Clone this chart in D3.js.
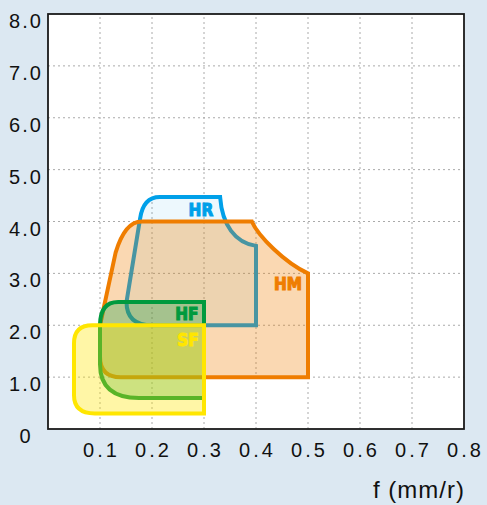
<!DOCTYPE html>
<html>
<head>
<meta charset="utf-8">
<script src="https://cdn.jsdelivr.net/npm/d3@7"></script>
<style>
  html, body { margin: 0; padding: 0; background: #dce8f2; }
  svg { display: block; }
</style>
</head>
<body>
<svg id="chart" width="487" height="505"></svg>
<script>
// tick values and labels
const xTicks = [0.1, 0.2, 0.3, 0.4, 0.5, 0.6, 0.7, 0.8];
const yTicks = [0, 1, 2, 3, 4, 5, 6, 7, 8];
const yTickLabels = ['0', '1.0', '2.0', '3.0', '4.0', '5.0', '6.0', '7.0', '8.0'];
const xTitle = 'f (mm/r)';

// chip breaker regions, outline in [f, ap]; 4 numbers = quad curve, 6 = cubic
const names = ['HR', 'HM', 'HF', 'SF'];
const outlineHR = [
  [0.151, 2.45], [0.177, 4.05], [0.183, 4.47, 0.215, 4.47], [0.331, 4.47],
  [0.335, 3.93, 0.36, 3.59, 0.4, 3.53], [0.4, 2.0], [0.2, 2.0], [0.151, 2.0, 0.151, 2.45],
];
const outlineHM = [
  [0.1, 1.4], [0.1, 2.0], [0.13, 3.4], [0.148, 4.0, 0.18, 4.0], [0.392, 4.0],
  [0.404, 3.72, 0.456, 3.2, 0.5, 3.0], [0.5, 1.0], [0.14, 1.0], [0.1, 1.0, 0.1, 1.4],
];
const outlineHF = [
  [0.1, 1.25], [0.1, 2.0], [0.1, 2.45, 0.135, 2.45], [0.3, 2.45],
  [0.3, 0.6], [0.175, 0.6], [0.1, 0.6, 0.1, 1.25],
];
const outlineSF = [
  [0.05, 0.65], [0.05, 1.65], [0.05, 2.0, 0.085, 2.0], [0.3, 2.0],
  [0.3, 0.3], [0.09, 0.3], [0.05, 0.3, 0.05, 0.65],
];
const labelF = [0.294, 0.4615, 0.267, 0.269];
const labelAp = [4.1, 2.67, 2.11, 1.6];

const colors = ['#00a0e9', '#ef7d00', '#009a3e', '#ffe600'];
const fillOpacity = [0.07, 0.3, 0.3, 0.35];

const svg = d3.select('#chart');

const x = d3.scaleLinear().domain([0, 0.8]).range([48, 464]);
const y = d3.scaleLinear().domain([0, 8]).range([429, 14]);

svg.append('rect')
  .attr('x', 48).attr('y', 14)
  .attr('width', 416).attr('height', 415)
  .attr('fill', '#fff');

// grid
svg.append('g')
  .selectAll('line')
  .data(xTicks.slice(0, -1))
  .enter()
  .append('line')
  .attr('x1', d => x(d)).attr('x2', d => x(d))
  .attr('y1', y(0)).attr('y2', y(8))
  .attr('stroke', '#aaa')
  .attr('stroke-dasharray', '2,3');

svg.append('g')
  .selectAll('line')
  .data(yTicks.slice(1, -1))
  .enter()
  .append('line')
  .attr('x1', x(0)).attr('x2', x(0.8))
  .attr('y1', d => y(d)).attr('y2', d => y(d))
  .attr('stroke', '#aaa')
  .attr('stroke-dasharray', '2,3');

function outline(pts) {
  const p = d3.path();
  pts.forEach((s, i) => {
    if (i === 0) p.moveTo(x(s[0]), y(s[1]));
    else if (s.length === 2) p.lineTo(x(s[0]), y(s[1]));
    else if (s.length === 4) p.quadraticCurveTo(x(s[0]), y(s[1]), x(s[2]), y(s[3]));
    else p.bezierCurveTo(x(s[0]), y(s[1]), x(s[2]), y(s[3]), x(s[4]), y(s[5]));
  });
  p.closePath();
  return p.toString();
}

const outlines = [outlineHR, outlineHM, outlineHF, outlineSF];

svg.append('g')
  .selectAll('path')
  .data(outlines)
  .enter()
  .append('path')
  .attr('d', outline)
  .attr('fill', (d, i) => colors[i])
  .attr('fill-opacity', (d, i) => fillOpacity[i])
  .attr('stroke', (d, i) => colors[i])
  .attr('stroke-width', 4)
  .attr('stroke-linejoin', 'miter');

// The fills above are translucent, so strokes from lower shapes show through tinted.
svg.append('g')
  .selectAll('text')
  .data(names)
  .enter()
  .append('text')
  .attr('x', (d, i) => x(labelF[i]))
  .attr('y', (d, i) => y(labelAp[i]))
  .attr('text-anchor', 'middle')
  .attr('font-family', '"Liberation Sans Narrow", "Arial Narrow", "DejaVu Sans Condensed", sans-serif')
  .attr('font-weight', 'bold')
  .attr('font-size', 17)
  .attr('fill', (d, i) => colors[i])
  .attr('stroke', (d, i) => colors[i])
  .attr('stroke-width', 1)
  .text(d => d);

// frame
svg.append('rect')
  .attr('x', 48).attr('y', 14)
  .attr('width', 416).attr('height', 415)
  .attr('fill', 'none')
  .attr('stroke', '#1a1a1a')
  .attr('stroke-width', 1.8);

// tick labels
svg.append('g')
  .selectAll('text')
  .data(xTicks)
  .enter()
  .append('text')
  .attr('x', d => x(d) + 1.5)
  .attr('y', 457)
  .attr('text-anchor', 'middle')
  .attr('font-family', '"Liberation Sans", Arial, sans-serif')
  .attr('font-size', 20)
  .attr('letter-spacing', 3)
  .attr('fill', '#111')
  .text(d => d.toFixed(1));

svg.append('g')
  .selectAll('text')
  .data(yTicks)
  .enter()
  .append('text')
  .attr('x', 26)
  .attr('y', d => y(d) + 14)
  .attr('text-anchor', 'middle')
  .attr('font-family', '"Liberation Sans", Arial, sans-serif')
  .attr('font-size', 20)
  .attr('letter-spacing', 2)
  .attr('fill', '#111')
  .text((d, i) => yTickLabels[i]);

svg.append('text')
  .attr('x', 465)
  .attr('y', 498)
  .attr('text-anchor', 'end')
  .attr('font-family', '"Liberation Sans", Arial, sans-serif')
  .attr('font-size', 24)
  .attr('letter-spacing', 1)
  .attr('fill', '#111')
  .text(xTitle);
</script>
</body>
</html>
